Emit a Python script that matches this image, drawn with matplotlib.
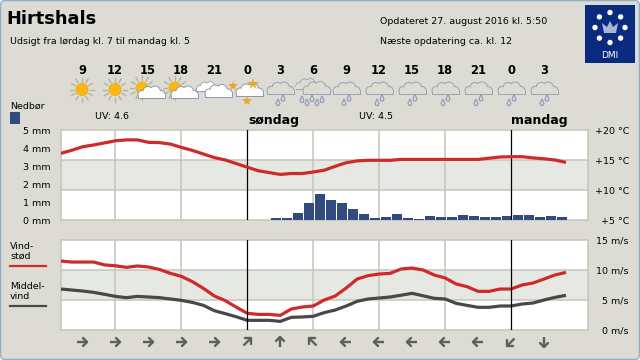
"""DMI 2-day forecast chart for Hirtshals: temperature, rain and wind panels."""
import numpy as np
import matplotlib
matplotlib.use("Agg")
import matplotlib.pyplot as plt
from matplotlib.patches import Circle, Ellipse, FancyBboxPatch, Polygon, Rectangle

_BG = "#dcdcd4"
_BAND = "#e6e8e3"
_GRID = "#c5c5bb"
_EDGE = "#8fb0c4"
_RED = "#cf2a2a"
_DARK = "#484848"
_BLUE = "#324a80"
_ARROW = "#5f5f5f"
_NAVY = "#0a2a80"
_SMALL = 6.8

# hours counted from Saturday 00:00, one value each hour
hours = list(range(7, 54))
temp_c = [16.1, 16.6, 17.2, 17.5, 17.85, 18.2, 18.35, 18.35, 17.95, 17.9, 17.65, 17.1,
          16.6, 16.0, 15.4, 15.0, 14.4, 13.8, 13.2, 12.9, 12.6, 12.75, 12.75, 13.0,
          13.3, 13.95, 14.55, 14.85, 14.95, 14.95, 14.95, 15.1, 15.1, 15.1, 15.1, 15.1,
          15.1, 15.1, 15.1, 15.3, 15.5, 15.55, 15.55, 15.35, 15.2, 15.0, 14.6]
gust = [11.5, 11.33, 11.33, 11.33, 10.85, 10.7, 10.44, 10.67, 10.5, 10.1, 9.44, 8.94,
        8.06, 6.94, 5.67, 4.89, 3.8, 2.78, 2.6, 2.6, 2.44, 3.5, 3.83, 4.0,
        5.0, 5.67, 7.0, 8.5, 9.06, 9.33, 9.44, 10.17, 10.33, 10.0, 9.17, 8.67,
        7.67, 7.22, 6.44, 6.44, 6.83, 6.83, 7.5, 7.83, 8.5, 9.17, 9.6]
mean_wind = [6.83, 6.67, 6.5, 6.28, 5.95, 5.6, 5.39, 5.6, 5.5, 5.39, 5.17, 4.94,
             4.6, 4.11, 3.22, 2.72, 2.2, 1.61, 1.61, 1.61, 1.44, 2.11, 2.17, 2.28,
             2.9, 3.33, 4.0, 4.78, 5.17, 5.33, 5.5, 5.8, 6.11, 5.7, 5.28, 5.17,
             4.44, 4.1, 3.78, 3.78, 4.0, 4.0, 4.33, 4.5, 5.0, 5.44, 5.78]

rain_hours = list(range(26, 53))
rain_mm = [0.11, 0.11, 0.39, 0.94, 1.44, 1.11, 0.94, 0.61, 0.33, 0.11, 0.17, 0.33, 0.11,
           0.06, 0.22, 0.17, 0.17, 0.28, 0.22, 0.17, 0.17, 0.22, 0.28, 0.28, 0.17, 0.22, 0.17]

# one entry per forecast column
col_hours = [9, 12, 15, 18, 21, 24, 27, 30, 33, 36, 39, 42, 45, 48, 51]
col_labels = ["9", "12", "15", "18", "21", "0", "3", "6", "9", "12", "15", "18", "21", "0", "3"]
col_icons = ["sun", "sun", "partly", "partly", "cloudy", "night", "rain", "heavy",
             "rain", "rain", "rain", "rain", "rain", "rain", "rain"]
# compass bearing each arrow points to
wind_dirs = [90, 90, 90, 90, 90, 45, 0, 315, 270, 270, 270, 270, 270, 225, 180]

mm_ticks = [0, 1, 2, 3, 4, 5]
temp_ticks = [5, 10, 15, 20]
wind_ticks = [0, 5, 10, 15]


def px(hour):
    return 60 + 11 * (hour - 7)


fig = plt.figure(figsize=(6.4, 3.6), dpi=100, facecolor="white")

# full-figure layer in pixel coordinates, behind the panels
bg = fig.add_axes([0, 0, 1, 1], zorder=0)
bg.set_xlim(0, 640)
bg.set_ylim(360, 0)
bg.axis("off")
bg.add_patch(FancyBboxPatch((0.5, 0.5), 639, 359, boxstyle="round,pad=0,rounding_size=5",
                            facecolor=_BG, edgecolor=_EDGE, linewidth=1.0))


def make_panel(top, bottom):
    ax = fig.add_axes([60.5 / 640, (360 - bottom) / 360, 527.5 / 640, (bottom - top) / 360], zorder=1)
    ax.set_facecolor("white")
    ax.set_xlim(7, 55)
    for spine in ax.spines.values():
        spine.set_color(_GRID)
        spine.set_linewidth(1.1)
    ax.set_xticks([])
    return ax


def decorate(ax, low, high):
    # ax is the axis holding the 3-band scale
    step = (high - low) / 3
    ax.axhspan(low + step, low + 2 * step, color=_BAND, zorder=0, linewidth=0)
    for k in (1, 2):
        ax.axhline(low + k * step, color=_GRID, linewidth=1.1, zorder=1)
    for h in (12, 18, 30, 36, 42):
        ax.axvline(h, color=_GRID, linewidth=1.1, zorder=1)
    for h in (24, 48):
        ax.axvline(h, color="black", linewidth=0.9, zorder=5)


# ── top panel: rain bars + temperature line
ax_rain = make_panel(130, 220)
ax_rain.set_ylim(0, 5)
decorate(ax_rain, 0, 5)
ax_rain.bar(np.array(rain_hours) + 0.18, rain_mm, width=0.92, align="edge",
            color=_BLUE, edgecolor="none", zorder=3)
ax_rain.set_yticks(mm_ticks)
ax_rain.set_yticklabels([f"{v} mm" for v in mm_ticks], fontsize=_SMALL, color="black")
ax_rain.tick_params(axis="y", length=0, pad=7)

ax_temp = ax_rain.twinx()
ax_temp.set_ylim(5, 20)
ax_temp.plot(hours, temp_c, color=_RED, linewidth=2.3, zorder=4, solid_capstyle="butt")
ax_temp.set_yticks(temp_ticks)
ax_temp.set_yticklabels([f"+{v} °C" for v in temp_ticks], fontsize=_SMALL, color="black", ha="right")
ax_temp.tick_params(axis="y", length=0, pad=29.5)
for spine in ax_temp.spines.values():
    spine.set_visible(False)

# ── bottom panel: wind
ax_wind = make_panel(240, 330)
ax_wind.set_ylim(0, 15)
decorate(ax_wind, 0, 15)
ax_wind.plot(hours, gust, color=_RED, linewidth=2.3, zorder=4, solid_capstyle="butt")
ax_wind.plot(hours, mean_wind, color=_DARK, linewidth=2.3, zorder=4, solid_capstyle="butt")
ax_wind.yaxis.tick_right()
ax_wind.set_yticks(wind_ticks)
ax_wind.set_yticklabels([f"{v} m/s" for v in wind_ticks], fontsize=_SMALL, color="black", ha="right")
ax_wind.tick_params(axis="y", length=0, pad=29.5)

# top layer for header, icons and legends
ov = fig.add_axes([0, 0, 1, 1], zorder=2)
ov.set_xlim(0, 640)
ov.set_ylim(360, 0)
ov.axis("off")
ov.patch.set_alpha(0)

ov.text(6, 18.5, "Hirtshals", fontsize=12.8, fontweight="bold", va="center", ha="left")
ov.text(10, 41.5, "Udsigt fra lørdag kl. 7 til mandag kl. 5", fontsize=_SMALL, va="center")
ov.text(380, 21.5, "Opdateret 27. august 2016 kl. 5:50", fontsize=_SMALL, va="center")
ov.text(380, 41.5, "Næste opdatering ca. kl. 12", fontsize=_SMALL, va="center")
ov.text(95, 116.5, "UV: 4.6", fontsize=_SMALL, va="center")
ov.text(359, 116.5, "UV: 4.5", fontsize=_SMALL, va="center")
ov.text(274, 120.5, "søndag", fontsize=9, fontweight="bold", va="center", ha="center")
ov.text(539, 120.5, "mandag", fontsize=9, fontweight="bold", va="center", ha="center")

ov.text(10, 106.5, "Nedbør", fontsize=_SMALL, va="center")
ov.add_patch(Rectangle((10, 112), 10, 12, facecolor=_BLUE, edgecolor="none"))
ov.text(10, 246.5, "Vind-", fontsize=_SMALL, va="center")
ov.text(10, 256.5, "stød", fontsize=_SMALL, va="center")
ov.plot([10, 46], [265.5, 265.5], color=_RED, linewidth=1.6)
ov.text(10, 286.5, "Middel-", fontsize=_SMALL, va="center")
ov.text(10, 296.5, "vind", fontsize=_SMALL, va="center")
ov.plot([10, 46], [305.5, 305.5], color=_DARK, linewidth=1.6)


def sun(x, y, r=6):
    for a in np.arange(0, 360, 30):
        c, s = np.cos(np.radians(a)), np.sin(np.radians(a))
        ov.plot([x + c * (r + 2), x + c * (r + 6)], [y + s * (r + 2), y + s * (r + 6)],
                color="#b8b498", linewidth=1.0, zorder=2)
    ov.add_patch(Circle((x, y), r, facecolor="#fdb70e", edgecolor="#e0a820", linewidth=0.5, zorder=3))


def cloud(x, y, scale=1.0, fill="white", edge="#8f99b0", zorder=4):
    blobs = [(-9, 2, 3.5), (-3, -1, 4.5), (4, -1, 5), (10, 2, 3.5)]
    for width, col in ((1.0, edge), (0.0, fill)):
        for bx, by, r in blobs:
            ov.add_patch(Circle((x + bx * scale, y + by * scale), (r + width) * scale,
                                facecolor=col, edgecolor="none", zorder=zorder))
        ov.add_patch(Rectangle((x - (12.5 + width) * scale, y + 1 * scale), (26 + 2 * width) * scale,
                               (4.5 + width) * scale, facecolor=col, edgecolor="none", zorder=zorder))


def drop(x, y):
    ov.add_patch(Polygon([(x, y - 4), (x + 2, y + 0.5), (x + 1, y + 2.5), (x - 1, y + 2.5), (x - 2, y + 0.5)],
                         closed=True, facecolor="#d8dce0", edgecolor="#8f99b0", linewidth=0.8, zorder=5))


def star(x, y, size=7):
    ov.plot([x], [y], marker="*", markersize=size, color="#e8a820", markeredgewidth=0, zorder=6)


for hour, label, icon in zip(col_hours, col_labels, col_icons):
    x = px(hour)
    ov.text(x, 70.5, label, fontsize=8.3, fontweight="bold", ha="center", va="center")
    if icon == "sun":
        sun(x, 89.5)
    elif icon == "partly":
        sun(x - 6, 88)
        cloud(x + 3, 92.5)
    elif icon == "cloudy":
        cloud(x - 7, 87, 0.8, zorder=4)
        cloud(x + 4, 91, zorder=5)
        star(x + 19, 86)
    elif icon == "night":
        star(x + 6, 83.5, 9)
        cloud(x + 2, 90)
        star(x, 100.5)
    elif icon == "rain":
        cloud(x, 88.5, fill=_BG, edge="#9aa3b5")
        drop(x - 2, 103)
        drop(x + 3, 98.5)
    elif icon == "heavy":
        cloud(x - 6, 84, 0.85, fill=_BG, edge="#9aa3b5")
        cloud(x + 3, 88, fill=_BG, edge="#9aa3b5")
        for dx, dy in ((-11, 100), (-6, 103), (-1, 99), (4, 103), (9, 100)):
            drop(x + dx, dy)


def wind_arrow(x, y, bearing):
    a = np.radians(bearing)
    d = np.array([np.sin(a), -np.cos(a)])  # y runs downward here
    n = np.array([-d[1], d[0]])
    tail, tip = np.array([x, y]) - 5 * d, np.array([x, y]) + 5 * d
    ov.plot([tail[0], tip[0]], [tail[1], tip[1]], color=_ARROW, linewidth=1.7, solid_capstyle="butt")
    for side in (1, -1):
        wing = tip - 4 * d + side * 4 * n
        ov.plot([wing[0], tip[0]], [wing[1], tip[1]], color=_ARROW, linewidth=1.7, solid_capstyle="round")


for hour, bearing in zip(col_hours, wind_dirs):
    wind_arrow(px(hour), 342, bearing)

# DMI logo
ov.add_patch(Rectangle((585, 5), 50, 58, facecolor=_NAVY, edgecolor="none"))
for k in range(8):
    a = np.radians(45 * k)
    ov.add_patch(Ellipse((610 + 15 * np.sin(a), 27.5 - 15 * np.cos(a)), 5.4, 5.4, facecolor="white", edgecolor="none"))
ov.add_patch(Polygon([(604, 33), (616, 33), (618, 23), (613, 27), (610, 21), (607, 27), (602, 23)],
                     closed=True, facecolor="#a8b4d8", edgecolor="none"))
ov.text(610, 55.5, "DMI", color="white", fontsize=6.5, ha="center", va="center")

fig.savefig("out.png", dpi=100, facecolor="white")
